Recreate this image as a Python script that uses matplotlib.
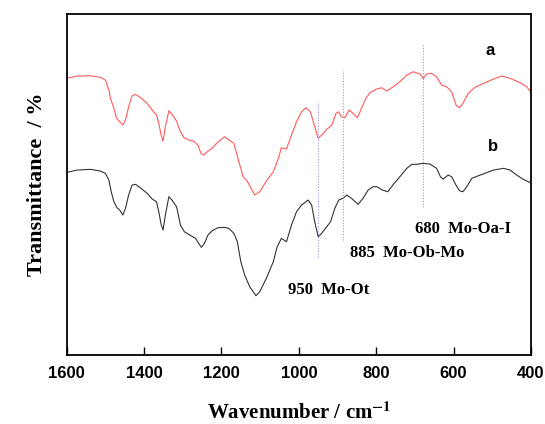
import matplotlib.pyplot as plt

plt.rcParams['mathtext.fontset'] = 'stix'

# FT-IR spectra, values (arbitrary transmittance units)
wn_a = [1599, 1573, 1539, 1513, 1500, 1491, 1487, 1478, 1471, 1463, 1455, 1448, 1440,
        1431, 1422, 1409, 1392, 1379, 1368, 1362, 1356, 1351, 1345, 1336, 1328, 1316,
        1308, 1297, 1284, 1272, 1261, 1253, 1246, 1235, 1224, 1211, 1192, 1181, 1168,
        1155, 1144, 1135, 1114, 1101, 1084, 1066, 1053, 1045, 1032, 1019, 1006, 993,
        982, 970, 959, 950, 941, 928, 915, 904, 897, 890, 881, 870, 860, 849, 838, 827,
        815, 799, 786, 773, 756, 739, 721, 704, 687, 679, 670, 657, 644, 631, 618, 605,
        594, 585, 576, 562, 545, 519, 493, 476, 454, 428, 411, 401]
t_a = [277, 279, 279.3, 277.7, 275, 265, 256.7, 246.7, 236.7, 233.3, 230, 235, 248.3,
       259.3, 260.7, 257.3, 251.7, 245, 240, 231.7, 220, 214, 228.3, 244.3, 240.7, 234,
       225, 217.3, 215, 214, 210, 201.7, 200, 204, 206.7, 212.3, 218.3, 215, 211.7,
       193.3, 178.3, 175, 160, 163.3, 174, 183.3, 196.7, 207.3, 206, 220, 233.3, 243.3,
       247.3, 243.3, 228.3, 216.7, 220, 225.7, 230, 241.7, 243.3, 238.3, 237.3, 245, 241.7,
       237.3, 246.7, 256.7, 262.7, 266, 267.3, 264, 268.3, 273.3, 280, 283.3, 281, 276.7,
       281, 281.7, 278.3, 270, 268.3, 263.3, 250, 247.3, 251.7, 261.7, 267.7, 272.3,
       276.7, 279, 276.7, 272.3, 268.3, 263.3]

wn_b = [1599, 1573, 1539, 1513, 1500, 1491, 1485, 1478, 1470, 1463, 1455, 1448, 1440,
        1431, 1422, 1408, 1392, 1379, 1368, 1362, 1356, 1351, 1345, 1336, 1328, 1316,
        1306, 1296, 1282, 1267, 1259, 1252, 1244, 1235, 1224, 1209, 1193, 1181, 1168,
        1159, 1150, 1140, 1127, 1111, 1101, 1084, 1066, 1056, 1045, 1032, 1019, 1006,
        993, 976, 967, 959, 950, 941, 928, 918, 907, 897, 886, 876, 864, 847, 834, 821,
        808, 798, 784, 770, 757, 739, 721, 708, 696, 679, 661, 644, 634, 627, 614, 605,
        594, 585, 576, 566, 553, 536, 519, 497, 471, 454, 437, 420, 401]
t_b = [182.7, 185, 185.7, 184, 181.7, 175, 163.3, 153.3, 147.3, 145, 140, 146.7, 160,
       170, 170.7, 166.7, 161.7, 156, 153.3, 143.3, 130.7, 125, 140, 158.3, 155, 148.3,
       130, 123.3, 120, 116.7, 111.7, 107.7, 111.7, 120, 124.3, 127.3, 127.7, 126.7, 121.7,
       113.3, 93.3, 80, 68.3, 59.3, 63.3, 76.7, 93.3, 108.3, 116.7, 113.3, 130, 143.3,
       150, 155, 150, 133.3, 118.3, 121.7, 128.3, 133.3, 146.7, 155, 156.7, 160, 156.7,
       150.7, 156.7, 165, 168.3, 168.3, 165, 163.3, 170, 178.3, 186.7, 190.7, 190.7, 191.7,
       191, 186.7, 178.3, 176, 180, 178.3, 170, 164.3, 163.3, 168.3, 176.7, 179.3, 181.7,
       185, 186.7, 185, 180, 175.7, 172.3]

marks = [950, 885, 680]
mark_top = [252, 285, 312]
mark_bot = [98, 115, 148]
mark_text = ['950  Mo-Ot', '885  Mo-Ob-Mo', '680  Mo-Oa-I']
text_x = [1028, 868, 700]
text_y = [65, 102, 126]

fig = plt.figure(figsize=(5.45, 4.24), dpi=100)
ax = fig.add_axes([0.1224, 0.1627, 0.8519, 0.8053])

ax.plot(wn_a, t_a, color='#ff5a5a', lw=0.8)
ax.plot(wn_b, t_b, color='#333333', lw=0.8)

for w, y0, y1 in zip(marks, mark_bot, mark_top):
    ax.plot([w, w], [y0, y1], color='#a78be0', lw=0.8, ls=(0, (1, 1.5)))

for s, x, y in zip(mark_text, text_x, text_y):
    ax.text(x, y, s, family='Liberation Serif', fontweight='bold', fontsize=12,
            ha='left', va='center')

ax.text(505, 305, 'a', fontweight='bold', fontsize=12, family='Liberation Sans', ha='center', va='center')
ax.text(499, 209, 'b', fontweight='bold', fontsize=12, family='Liberation Sans', ha='center', va='center')

ax.set_xlim(1600, 400)
ax.set_ylim(0, 341.5)
ax.set_xticks([1600, 1400, 1200, 1000, 800, 600, 400])
ax.set_yticks([])
ax.tick_params(axis='x', direction='in', length=6, width=1, pad=8)
for lab in ax.get_xticklabels():
    lab.set_family('Liberation Sans')
    lab.set_fontweight('bold')
    lab.set_fontsize(12)
for sp in ax.spines.values():
    sp.set_linewidth(1.3)

ax.set_xlabel('Wavenumber / cm$^{\\mathbf{-1}}$', family='Liberation Serif', fontweight='bold',
              fontsize=15, labelpad=15)
ax.set_ylabel('Transmittance  / %', family='Liberation Serif', fontweight='bold',
              fontsize=16, labelpad=14)

fig.savefig('out.png', dpi=100)
